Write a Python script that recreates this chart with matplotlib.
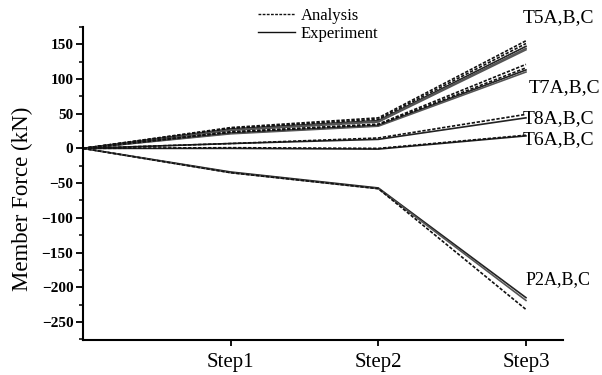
import matplotlib
matplotlib.use("Agg")
import matplotlib.pyplot as plt
from matplotlib.lines import Line2D
from matplotlib.ticker import MultipleLocator

plt.rcParams['font.family'] = ['Liberation Serif', 'DejaVu Serif']

steps = [0, 1, 2, 3]
step_labels = ["Step1", "Step2", "Step3"]

# Analysis (dashed) series
analysis = {
    "T5": [[0, 30, 44, 155], [0, 29, 42, 151]],
    "T7": [[0, 24, 35, 121], [0, 23, 34, 116]],
    "T8": [[0, 7, 15, 49]],
    "T6": [[0, 1, 0, 19]],
    "P2": [[0, -35, -58, -232]],
}
# Experiment (solid) series
experiment = {
    "T5": [[0, 28, 40, 147], [0, 27, 39, 144], [0, 26, 38, 142]],
    "T7": [[0, 22, 33, 113], [0, 21, 32, 110]],
    "T8": [[0, 7, 13, 44]],
    "T6": [[0, 0, -1, 18]],
    "P2": [[0, -34, -57, -215], [0, -35, -58, -219]],
}
group_labels = ["T5A,B,C", "T7A,B,C", "T8A,B,C", "T6A,B,C", "P2A,B,C"]
label_x = [2.98, 3.02, 2.98, 2.98, 3.0]
label_y = [189, 88, 43, 13, -189]
label_size = [14, 14, 14, 14, 13]

fig = plt.figure(figsize=(6.02, 3.75), dpi=100)
ax = fig.add_axes([0.138, 0.0933, 0.797, 0.835])

for key, series in experiment.items():
    for i, s in enumerate(series):
        ax.plot(steps, s, color='#222222' if i == 0 else '#555555', lw=1.2, solid_joinstyle='miter')
for key, series in analysis.items():
    for s in series:
        ax.plot(steps, s, color='#111111', lw=1.2, linestyle=(0, (2, 1)))

for t, x, y, fs in zip(group_labels, label_x, label_y, label_size):
    ax.text(x, y, t, fontsize=fs, ha='left', va='center', clip_on=False)

ax.set_xlim(0, 3.25)
ax.set_ylim(-276, 175)
ax.set_xticks([1, 2, 3])
ax.set_xticklabels(step_labels, fontsize=15)
ax.yaxis.set_major_locator(MultipleLocator(50))
ax.yaxis.set_minor_locator(MultipleLocator(25))
ax.tick_params(axis='y', which='major', direction='out', length=5, width=1.3, labelsize=11, pad=2)
ax.tick_params(axis='y', which='minor', direction='out', length=3, width=1.1)
ax.tick_params(axis='x', which='major', direction='out', length=4, width=1.3, pad=5)
for lab in ax.get_yticklabels():
    lab.set_fontweight('bold')
ax.set_ylabel("Member Force (kN)", fontsize=16.5)
ax.yaxis.set_label_coords(-0.105, 0.45)

for sp in ['top', 'right']:
    ax.spines[sp].set_visible(False)
for sp in ['left', 'bottom']:
    ax.spines[sp].set_linewidth(1.5)

handles = [Line2D([], [], color='#111111', lw=1.0, linestyle=(0, (2, 1))),
           Line2D([], [], color='#111111', lw=1.0)]
fig.legend(handles, ["Analysis", "Experiment"], loc='upper left',
           bbox_to_anchor=(258 / 602, 1 - 8 / 375), frameon=False,
           fontsize=12, handlelength=2.2, handletextpad=0.35,
           labelspacing=0.1, borderpad=0, borderaxespad=0)

fig.savefig("out.png", dpi=100)
